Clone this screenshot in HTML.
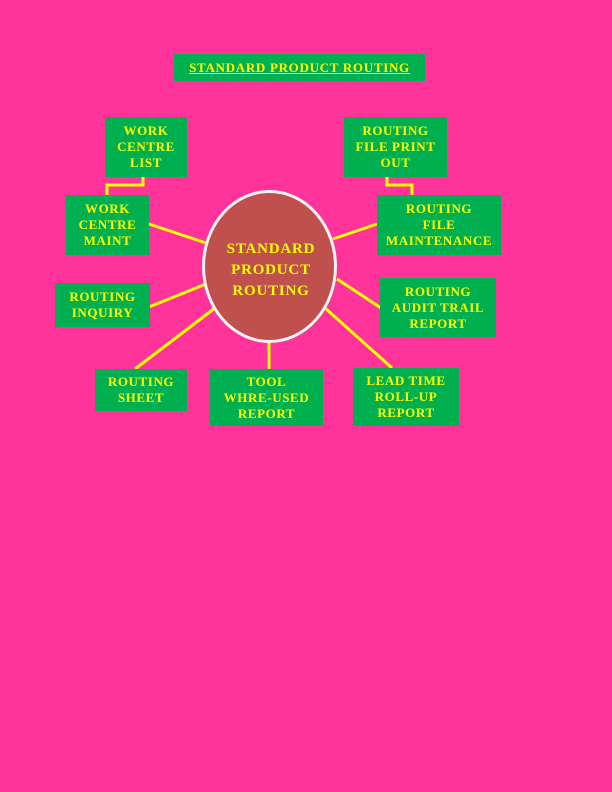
<!DOCTYPE html>
<html><head><style>
body{margin:0;width:612px;height:792px;background:#ff3399;overflow:hidden;position:relative;font-family:"Liberation Serif",serif;}
.b{position:absolute;background:#00b050;color:#ffff00;font-weight:bold;font-size:13px;line-height:16px;text-align:center;display:flex;align-items:center;justify-content:center;letter-spacing:0.6px;}
svg{position:absolute;left:0;top:0;}
</style></head><body>
<svg width="612" height="792">
<g stroke="#ffff00" stroke-width="3" fill="none">
<polyline points="143,177 143,185 107,185 107,195"/>
<polyline points="387,177 387,185 412,185 412,195"/>
<line x1="149" y1="224" x2="206" y2="243"/>
<line x1="333" y1="239" x2="377" y2="224"/>
<line x1="149" y1="307" x2="206" y2="284"/>
<line x1="337" y1="279" x2="381" y2="308"/>
<line x1="135" y1="369" x2="215" y2="308"/>
<line x1="269" y1="343" x2="269" y2="369"/>
<line x1="325" y1="308" x2="392" y2="368"/>
</g>
<ellipse cx="271" cy="268" rx="66" ry="75" fill="#a04040" opacity="0.5"/>
<ellipse cx="269.5" cy="266.5" rx="66" ry="75" fill="#c0504d" stroke="#f2f2f2" stroke-width="3"/>
<g fill="#ffff00" font-family="Liberation Serif, serif" font-weight="bold" font-size="15" text-anchor="middle" letter-spacing="0.8">
<text x="271" y="253">STANDARD</text>
<text x="271" y="274">PRODUCT</text>
<text x="271" y="295">ROUTING</text>
</g>
</svg>
<div class="b" style="left:174px;top:54px;width:251px;height:27px;text-decoration:underline;letter-spacing:0.7px;">STANDARD PRODUCT ROUTING</div>
<div class="b" style="left:105px;top:117px;width:82px;height:60px;">WORK<br>CENTRE<br>LIST</div>
<div class="b" style="left:344px;top:117px;width:103px;height:60px;">ROUTING<br>FILE PRINT<br>OUT</div>
<div class="b" style="left:66px;top:195px;width:83px;height:60px;">WORK<br>CENTRE<br>MAINT</div>
<div class="b" style="left:377px;top:195px;width:124px;height:60px;">ROUTING<br>FILE<br>MAINTENANCE</div>
<div class="b" style="left:55px;top:283px;width:95px;height:44px;">ROUTING<br>INQUIRY</div>
<div class="b" style="left:380px;top:278px;width:116px;height:59px;">ROUTING<br>AUDIT TRAIL<br>REPORT</div>
<div class="b" style="left:95px;top:369px;width:92px;height:42px;">ROUTING<br>SHEET</div>
<div class="b" style="left:210px;top:369px;width:113px;height:57px;">TOOL<br>WHRE-USED<br>REPORT</div>
<div class="b" style="left:353px;top:368px;width:106px;height:58px;">LEAD TIME<br>ROLL-UP<br>REPORT</div>
</body></html>
